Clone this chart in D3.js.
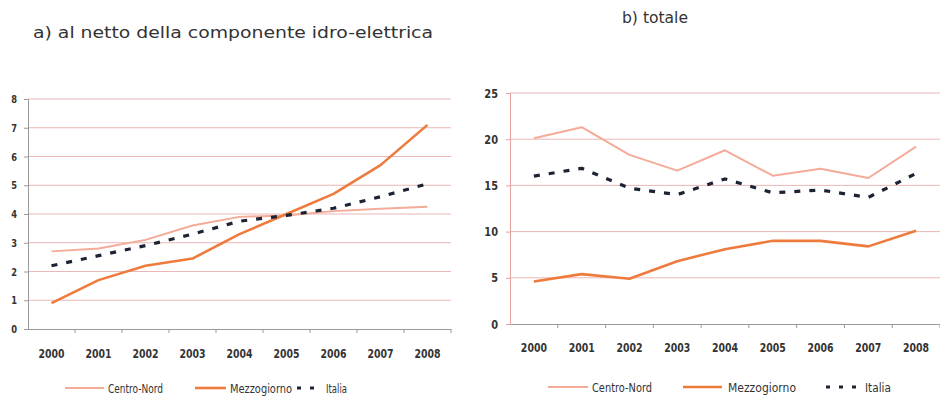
<!DOCTYPE html>
<html><head><meta charset="utf-8">
<script src="https://cdn.jsdelivr.net/npm/d3@7"></script>
<style>
body{margin:0;background:#fff;}
svg{display:block;}
</style></head>
<body>
<svg id="c" width="940" height="396"></svg>
<script>
const years = ["2000","2001","2002","2003","2004","2005","2006","2007","2008"];
const seriesNames = ["Centro-Nord","Mezzogiorno","Italia"];
// a) al netto della componente idro-elettrica
const aCentroNord = [2.7,2.8,3.1,3.6,3.9,3.95,4.1,4.18,4.25];
const aMezzogiorno = [0.9,1.7,2.2,2.45,3.3,4.0,4.7,5.7,7.1];
const aItalia = [2.2,2.55,2.9,3.3,3.75,3.95,4.2,4.6,5.05];
const aTicks = [0,1,2,3,4,5,6,7,8];
// b) totale
const bCentroNord = [20.1,21.3,18.3,16.6,18.8,16.05,16.8,15.8,19.2];
const bMezzogiorno = [4.6,5.4,4.9,6.8,8.1,9.0,9.0,8.4,10.1];
const bItalia = [16.0,16.85,14.7,14.0,15.7,14.2,14.5,13.7,16.3];
const bTicks = [0,5,10,15,20,25];

const styles = {
  "Centro-Nord": {color:"#f4ab98", width:2, dash:null},
  "Mezzogiorno": {color:"#ee7b3c", width:2.6, dash:null},
  "Italia": {color:"#1c2333", width:3.2, dash:"6,9"}
};

const svg = d3.select("#c");
const condFont = "'DejaVu Sans Condensed','DejaVu Sans',sans-serif";

function narrow(sel, f){
  sel.each(function(){
    const w = this.getComputedTextLength();
    d3.select(this).attr("textLength", w*f).attr("lengthAdjust","spacingAndGlyphs");
  });
}

function panel(opt){
  const g = svg.append("g");
  const x = d3.scaleBand().domain(years).range([opt.x0, opt.x1]);
  const y = d3.scaleLinear().domain([0, opt.max]).range([opt.y0, opt.y1]);
  // gridlines
  g.selectAll("line.grid").data(opt.ticks.filter(t=>t>0)).enter().append("line")
    .attr("x1", opt.x0).attr("x2", opt.x1)
    .attr("y1", d=>y(d)).attr("y2", d=>y(d))
    .attr("stroke", "#eab7b7").attr("stroke-width", 1);
  // y axis
  const ya = g.append("g").attr("transform", `translate(${opt.x0},0)`)
    .call(d3.axisLeft(y).tickValues(opt.ticks).tickSize(4).tickPadding(opt.ypad));
  ya.select(".domain").attr("stroke", opt.ycolor);
  ya.selectAll(".tick line").attr("stroke", opt.ycolor);
  ya.selectAll("text").attr("font-family", condFont).attr("font-weight","bold")
    .attr("font-size", opt.yfs).attr("fill", "#333").call(narrow, 0.84);
  // x axis
  const xa = g.append("g").attr("transform", `translate(0,${opt.y0})`)
    .call(d3.axisBottom(x).tickSize(0).tickPadding(opt.xpad));
  xa.select(".domain").attr("stroke", "#999");
  xa.selectAll("text").attr("font-family", condFont).attr("font-weight","bold")
    .attr("font-size", 13).attr("fill", "#333").call(narrow, 0.8);
  // category boundary ticks
  g.selectAll("line.xt").data(years.slice(1).concat(["end"])).enter().append("line")
    .attr("x1", (d,i)=> i < years.length-1 ? x(d) : opt.x1)
    .attr("x2", (d,i)=> i < years.length-1 ? x(d) : opt.x1)
    .attr("y1", opt.y0).attr("y2", opt.y0+4).attr("stroke","#999");
  // lines
  const line = d3.line().x((d,i)=>x(years[i]) + x.bandwidth()/2).y(d=>y(d));
  opt.series.forEach((vals, k)=>{
    const s = styles[seriesNames[k]];
    g.append("path").datum(vals).attr("d", line)
      .attr("fill","none").attr("stroke", s.color).attr("stroke-width", s.width)
      .attr("stroke-dasharray", s.dash).attr("stroke-linejoin","round");
  });
  // legend
  const lg = g.append("g");
  opt.legend.forEach((L, k)=>{
    const s = styles[seriesNames[k]];
    lg.append("line").attr("x1", L[0]).attr("x2", L[1]).attr("y1", opt.ly).attr("y2", opt.ly)
      .attr("stroke", s.color).attr("stroke-width", s.width)
      .attr("stroke-dasharray", s.dash ? "4,9" : null);
    lg.append("text").attr("x", L[2]).attr("y", opt.ly+4.5).text(seriesNames[k])
      .attr("font-family", condFont).attr("font-size", 12.5)
      .attr("textLength", L[3]).attr("lengthAdjust","spacingAndGlyphs")
      .attr("fill","#333");
  });
  // title
  svg.append("text").attr("x", opt.tx).attr("y", opt.ty).text(opt.title)
    .attr("font-family","'DejaVu Sans',sans-serif").attr("font-size", 15)
    .attr("textLength", opt.tlen).attr("lengthAdjust","spacingAndGlyphs")
    .attr("fill","#333");
}

panel({x0:28, x1:451, y0:329, y1:99, max:8, ticks:aTicks, ycolor:"#999", ypad:7, yfs:11, xpad:19.5,
  series:[aCentroNord,aMezzogiorno,aItalia],
  legend:[[65,104,108,55],[195,226,230,62],[297,322,326,21]], ly:388,
  title:"a) al netto della componente idro-elettrica", tx:33, ty:38, tlen:400});
panel({x0:510, x1:940, y0:324, y1:93, max:25, ticks:bTicks, ycolor:"#e5a0a0", ypad:8, yfs:13, xpad:18.5,
  series:[bCentroNord,bMezzogiorno,bItalia],
  legend:[[548,588,592,60],[683,722,728,68],[826,860,865,26]], ly:387,
  title:"b) totale", tx:622, ty:23, tlen:66});
</script>
</body></html>
